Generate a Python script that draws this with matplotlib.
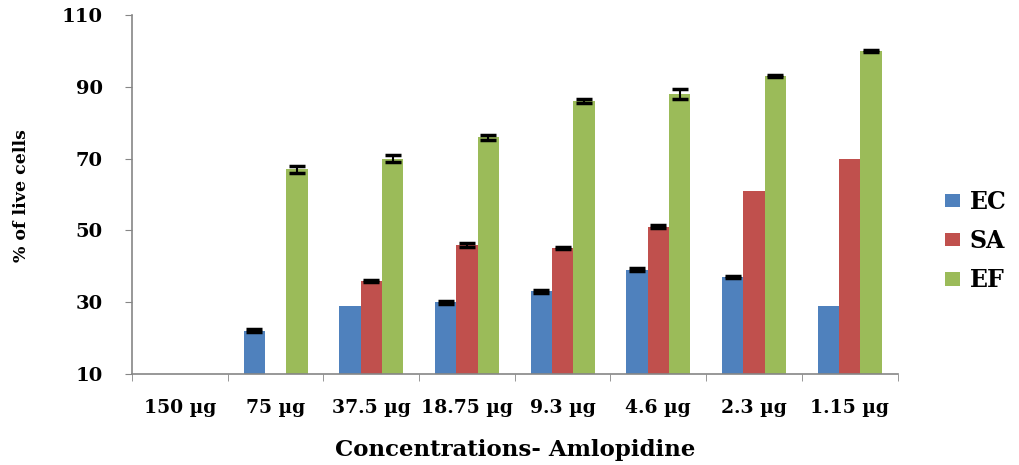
import matplotlib
matplotlib.use("Agg")
import matplotlib.pyplot as plt
import numpy as np

plt.rcParams['font.family'] = ['DejaVu Serif']
plt.rcParams['font.weight'] = 'bold'

# concentrations of amlopidine and % live cells per organism
concentrations = ['150 µg', '75 µg', '37.5 µg', '18.75 µg', '9.3 µg', '4.6 µg', '2.3 µg', '1.15 µg']
ec = [np.nan, 22, 29, 30, 33, 39, 37, 29]
sa = [np.nan, np.nan, 36, 46, 45, 51, 61, 70]
ef = [np.nan, 67, 70, 76, 86, 88, 93, 100]
ec_err = [0, 0.4, 0, 0.4, 0.3, 0.4, 0.3, 0]
sa_err = [0, 0, 0.3, 0.6, 0.3, 0.4, 0, 0]
ef_err = [0, 1.0, 1.0, 0.7, 0.5, 1.5, 0.4, 0.3]

series = [('EC', ec, ec_err, '#4F81BD'),
          ('SA', sa, sa_err, '#C0504D'),
          ('EF', ef, ef_err, '#9BBB59')]

fig = plt.figure(figsize=(10.2, 4.65), dpi=100)
ax = fig.add_axes([0.1294, 0.1957, 0.7506, 0.772])

x = np.arange(len(concentrations))
width = 0.223
base = 10
for k, (name, vals, errs, color) in enumerate(series):
    pos = x + (k - 1) * width
    vals = np.array(vals, dtype=float)
    ax.bar(pos, vals - base, width, bottom=base, color=color, label=name, zorder=2)
    errs = np.array(errs, dtype=float)
    mask = ~np.isnan(vals) & (errs > 0)
    ax.errorbar(pos[mask], vals[mask], yerr=errs[mask], fmt='none',
                ecolor='black', elinewidth=1.5, capsize=5.5, capthick=2.5, zorder=3)

ax.set_xlim(-0.5, len(concentrations) - 0.5)
ax.set_ylim(10, 110)
ax.set_yticks([10, 30, 50, 70, 90, 110])
ax.set_xticks(x)
ax.set_xticklabels(concentrations)
ax.set_xticks(np.arange(len(concentrations) + 1) - 0.5, minor=True)
ax.tick_params(axis='x', which='major', length=0, pad=18, labelsize=13.5)
ax.tick_params(axis='x', which='minor', length=5, color='#868686', direction='out')
ax.tick_params(axis='y', length=5, color='#868686', labelsize=14, pad=16)

for s in ['top', 'right']:
    ax.spines[s].set_visible(False)
for s in ['left', 'bottom']:
    ax.spines[s].set_color('#868686')
    ax.spines[s].set_linewidth(1.2)

for lab in ax.get_xticklabels() + ax.get_yticklabels():
    lab.set_fontweight('bold')

fig.text(22 / 1020, 0.58, '% of live cells', rotation=90, ha='center', va='center',
         fontsize=12.5, fontweight='bold')
fig.text(515 / 1020, 0.032, 'Concentrations- Amlopidine', ha='center', va='center',
         fontsize=16.5, fontweight='bold')

fig.legend(loc='center left', bbox_to_anchor=(945 / 1020, 1 - 241 / 465), frameon=False,
           prop={'size': 17, 'weight': 'bold'}, handlelength=0.65,
           handleheight=0.5, labelspacing=0.65, handletextpad=0.4,
           borderpad=0, borderaxespad=0)

fig.savefig('out.png', dpi=100)
